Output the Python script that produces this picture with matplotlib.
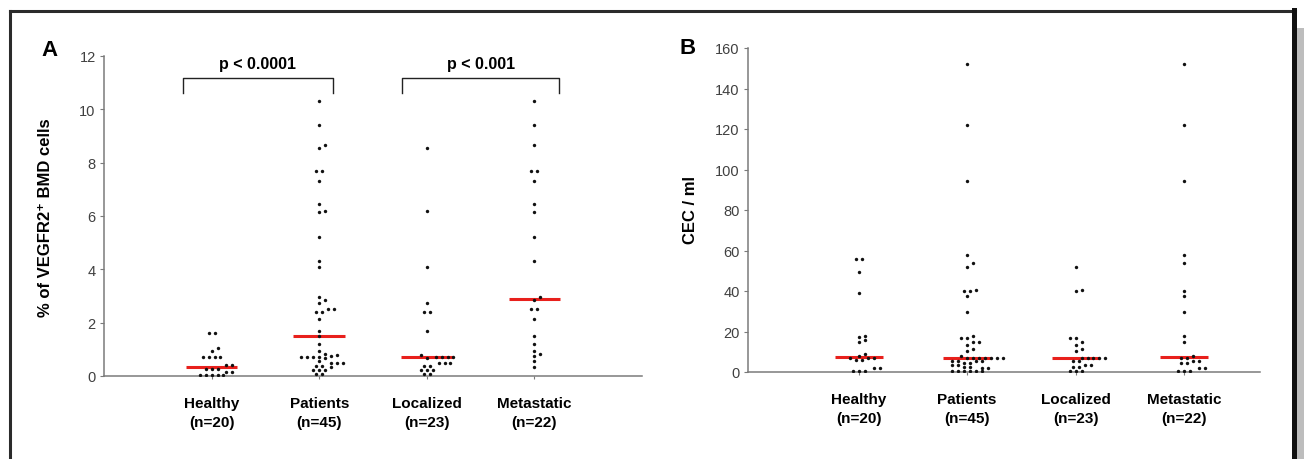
import matplotlib
matplotlib.use("Agg")
import matplotlib.pyplot as plt
from matplotlib.lines import Line2D
from matplotlib.patches import Rectangle
import numpy as np

plt.rcParams['font.family'] = ['Liberation Sans', 'DejaVu Sans']

groups = ["Healthy\n(n=20)", "Patients\n(n=45)", "Localized\n(n=23)", "Metastatic\n(n=22)"]

# panel A : % of VEGFR2+ BMD cells
healthy_a = [1.6, 1.6, 1.05, 0.92, 0.7, 0.7, 0.7, 0.7, 0.4, 0.4,
             0.27, 0.27, 0.27, 0.15, 0.15, 0.04, 0.04, 0.04, 0.04, 0.04]
patients_a = [10.3, 9.4, 8.65, 8.55, 7.7, 7.7, 7.3, 6.45, 6.2, 6.15, 5.2, 4.3, 4.1,
              2.95, 2.85, 2.75, 2.5, 2.5, 2.4, 2.4, 2.12, 1.67, 1.5, 1.2, 0.93,
              0.82, 0.8, 0.75, 0.73, 0.73, 0.73, 0.73, 0.66, 0.57, 0.5, 0.5, 0.5,
              0.38, 0.38, 0.35, 0.22, 0.22, 0.22, 0.07, 0.07]
localized_a = [8.55, 6.2, 4.1, 2.75, 2.4, 2.4, 1.67, 0.8, 0.73, 0.73, 0.73, 0.73,
               0.66, 0.5, 0.5, 0.5, 0.38, 0.38, 0.22, 0.22, 0.22, 0.07, 0.07]
metastatic_a = [10.3, 9.4, 8.65, 7.7, 7.7, 7.3, 6.45, 6.15, 5.2, 4.3, 2.95, 2.85,
                2.5, 2.5, 2.12, 1.5, 1.2, 0.93, 0.82, 0.75, 0.57, 0.35]

# panel B : CEC / ml
healthy_b = [55.6, 55.6, 49.6, 38.9, 17.9, 17.1, 15.9, 15.0, 8.8, 8.0,
             7.0, 6.7, 6.7, 5.8, 5.8, 1.8, 1.8, 0.3, 0.3, 0.3]
patients_b = [151.9, 121.9, 94.2, 57.8, 53.7, 51.8, 40.6, 39.8, 39.8, 37.7, 29.8,
              17.9, 16.6, 16.6, 15.0, 15.0, 13.5, 11.5, 10.5, 7.9,
              6.8, 6.8, 6.8, 6.8, 6.8, 6.8, 6.8, 5.6, 5.6, 5.5, 5.5, 4.4, 4.4,
              3.4, 3.4, 2.3, 2.3, 1.8, 1.8, 0.3, 0.3, 0.3, 0.3, 0.3, 0.3]
localized_b = [51.8, 40.6, 39.8, 16.6, 16.6, 15.0, 13.5, 11.5, 10.5, 6.8, 6.8, 6.8,
               6.8, 6.8, 5.5, 5.5, 3.4, 3.4, 2.3, 2.3, 0.3, 0.3, 0.3]
metastatic_b = [151.9, 121.9, 94.2, 57.8, 53.7, 39.8, 37.7, 29.8, 17.9, 15.0, 7.9,
                6.8, 6.8, 5.6, 5.6, 4.4, 4.4, 1.8, 1.8, 0.3, 0.3, 0.3]

data_a = [healthy_a, patients_a, localized_a, metastatic_a]
data_b = [healthy_b, patients_b, localized_b, metastatic_b]


def swarm(vals, pxu, d=0.055):
    # rows of equal values centred, shifted sideways if they hit earlier dots
    vals = np.asarray(vals, dtype=float)
    xs = np.zeros(len(vals))
    rows = {}
    for i in np.argsort(vals):
        rows.setdefault(vals[i], []).append(i)
    placed = []
    for v in sorted(rows):
        idx = rows[v]
        base = (np.arange(len(idx)) - (len(idx) - 1) / 2) * d
        for s in [0, d / 2, -d / 2, d, -d, 1.5 * d, -1.5 * d, 2 * d, -2 * d, 3 * d]:
            cand = base + s
            ok = True
            for cx in cand:
                for px, py in placed:
                    if abs(cx - px) < 0.9 * d and abs(v - py) * pxu < 4:
                        ok = False
            if ok:
                break
        for i, cx in zip(idx, cand):
            xs[i] = cx
            placed.append((cx, v))
    return xs


def draw_panel(ax, data, pxu, half):
    for k, vals in enumerate(data):
        pos = k + 1
        xs = swarm(vals, pxu)
        med = np.median(vals)
        ax.plot([pos - half, pos + half], [med, med], color='#e8201c', lw=2.2,
                solid_capstyle='butt', zorder=2)
        ax.scatter(pos + xs, vals, s=6, color='#111111', linewidths=0, zorder=3)
    for side in ['top', 'right']:
        ax.spines[side].set_visible(False)
    for side in ['left', 'bottom']:
        ax.spines[side].set_color('#7a7a7a')
        ax.spines[side].set_linewidth(1.1)
    ax.tick_params(axis='y', direction='out', length=3, width=0.8, color='#7a7a7a',
                   labelsize=10.5, labelcolor='#404040', pad=3)
    ax.tick_params(axis='x', direction='out', length=2.5, width=0.8, color='#7a7a7a',
                   labelsize=11, pad=12)
    ax.set_xticks(range(1, 5))
    ax.set_xticklabels(groups, linespacing=1.45, fontweight='bold')


fig = plt.figure(figsize=(13.04, 4.6), dpi=100)
W, H = 1304.0, 460.0

axA = fig.add_axes([104 / W, 1 - 377 / H, 538 / W, 320 / H])
draw_panel(axA, data_a, 26.67, 0.24)
axA.set_xlim(0, 5)
axA.set_ylim(0, 12)
axA.set_yticks(np.arange(0, 13, 2))

# significance brackets
for x0, x1, txt in [(0.734, 2.128, "p < 0.0001"), (2.77, 4.23, "p < 0.001")]:
    axA.plot([x0, x0, x1, x1], [10.62, 11.17, 11.17, 10.62], color='#222222',
             lw=1.0, clip_on=False)
    axA.text((x0 + x1) / 2, 11.72, txt, ha='center', va='center', fontsize=11.5,
             fontweight='bold', clip_on=False)

axB = fig.add_axes([748 / W, 1 - 373 / H, 512 / W, 324 / H])
draw_panel(axB, data_b, 2.025, 0.22)
axB.set_xlim(-0.02, 4.7)
axB.set_ylim(0, 160)
axB.set_yticks(np.arange(0, 161, 20))

fig.text(50 / W, 1 - 51 / H, "A", fontsize=16, fontweight='bold', ha='center', va='center')
fig.text(688 / W, 1 - 49 / H, "B", fontsize=16, fontweight='bold', ha='center', va='center')
fig.text(46 / W, 1 - 218 / H, "% of VEGFR2\u207a BMD cells", rotation=90, fontsize=12,
         fontweight='bold', ha='center', va='center')
fig.text(690 / W, 1 - 210 / H, "CEC / ml", rotation=90, fontsize=12,
         fontweight='bold', ha='center', va='center')

# outer frame with shadow on the right
fig.add_artist(Rectangle((1297 / W, 0), 7 / W, 1 - 29 / H, transform=fig.transFigure,
                         facecolor='#bdbdbd', edgecolor='none'))
fig.add_artist(Line2D([9.5 / W, 1295 / W], [1 - 11.5 / H, 1 - 11.5 / H],
                      transform=fig.transFigure, color='#2b2b2b', lw=2.2))
fig.add_artist(Line2D([9.5 / W, 9.5 / W], [0, 1 - 11.5 / H],
                      transform=fig.transFigure, color='#2b2b2b', lw=2.2))
fig.add_artist(Line2D([1294 / W, 1294 / W], [0, 1 - 10.5 / H],
                      transform=fig.transFigure, color='#111111', lw=3.6))

fig.savefig("out.png", dpi=100)
